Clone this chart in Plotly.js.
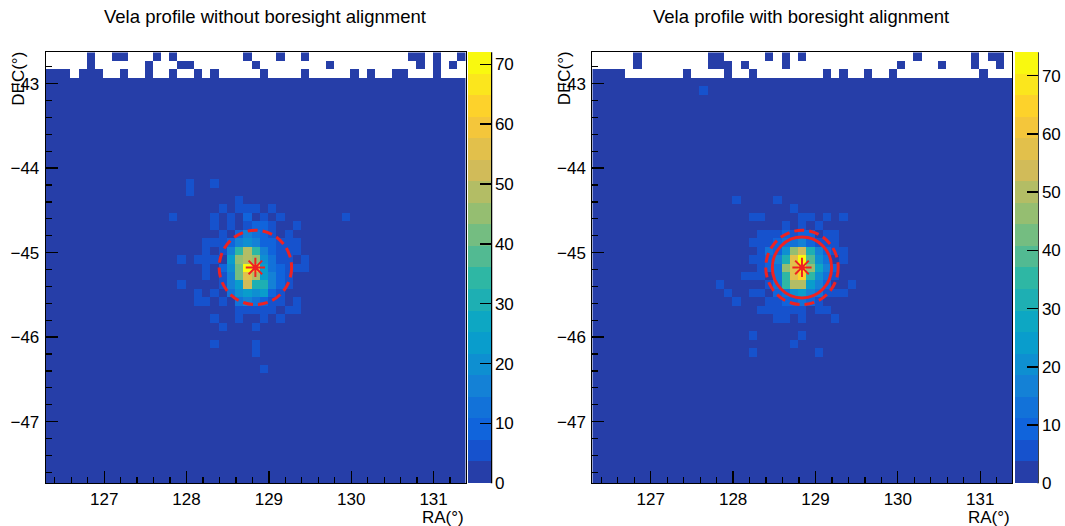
<!DOCTYPE html>
<html>
<head>
<meta charset="utf-8">
<script src="https://cdn.plot.ly/plotly-3.0.1.min.js"></script>
<style>
html,body{margin:0;padding:0;background:#fff;}
#chart{width:1065px;height:526px;}
</style>
</head>
<body>
<div id="chart"></div>
<script>
// ---------------- data ----------------
const panelTitles = ['Vela profile without boresight alignment', 'Vela profile with boresight alignment'];
const xTitleText = 'RA(°)';
const yTitleText = 'DEC(°)';
const raRange = [126.29, 131.39];      // 51 bins of 0.1 deg
const decRange = [-47.73, -42.63];     // 51 bins of 0.1 deg
const binWidth = 0.1;
const raTickStart = 127;
const decTickStart = -47;
const zTickVals = [0, 10, 20, 30, 40, 50, 60, 70];
const zMaxLeft = 72;
const zMaxRight = 74;
const nLevels = 20;
const velaPos = [128.836, -45.176];
const dashedRadius = [0.44, 0.44];     // left, right
const solidRadius = 0.36;              // right panel only

// Colour level of every bin.
// '.' = empty bin, 0-9 / a-j = colour level 0..19. Rows listed from top (DEC -42.68) to bottom.
const Z = '0000000000 0000000000 0000000000 0000000000 0000000000 0';
const leftLevels = [
'.....0..00 ...0.0.... ....0...0. .0........ ....00.0.. 0',
'.....0.... ..0...00.. .....0.... ....0..... .....0.0.0 .',
'000.000..0 ..0..0..0. 0.....0... .0.....0.0 ..00...0.. .',
Z, Z, Z, Z, Z, Z, Z, Z, Z, Z, Z, Z,
'0000000000 0000000100 1000000000 0000000000 0000000000 0',
'0000000000 0000000100 0000000000 0000000000 0000000000 0',
'0000000000 0000000000 0001000000 0000000000 0000000000 0',
'0000000000 0000000000 0101110100 0000000000 0000000000 0',
'0000000000 0000010000 1010201010 0000001000 0000000000 0',
'0000000000 0000000000 1010122100 1000000000 0000000000 0',
'0000000000 0000000000 0102432101 0000000000 0000000000 0',
'0000000000 0000000001 1124542211 1000000000 0000000000 0',
'0000000000 0000000001 0149d94211 1000000000 0000000000 0',
'0000000000 0000001011 106cdc5311 0100000000 0000000000 0',
'0000000000 0000000001 025bjg6321 1100000000 0000000000 0',
'0000000000 0000000001 014bfd6421 0000000000 0000000000 0',
'0000000000 0000001000 0146e88421 0000000000 0000000000 0',
'0000000000 0000000010 1035656210 0000000000 0000000000 0',
'0000000000 0000000011 0103432110 1000000000 0000000000 0',
'0000000000 0000000000 0001111101 1000000000 0000000000 0',
'0000000000 0000000000 1001001010 0000000000 0000000000 0',
'0000000000 0000000000 0100010000 0000000000 0000000000 0',
Z,
'0000000000 0000000000 1000010000 0000000000 0000000000 0',
'0000000000 0000000000 0000010000 0000000000 0000000000 0',
Z,
'0000000000 0000000000 0000001000 0000000000 0000000000 0',
Z, Z, Z, Z, Z, Z, Z, Z, Z, Z, Z, Z, Z
];
const rightLevels = [
'.....0.... ....00.... .0.0.0.... .........0 ......0.00 .',
'.....0.... ....000.0. ...0...... .......0.. ..0...0..0 .',
'0000...... .0....0..0 ........0. 0..0..0... .......0.. .',
Z,
'0000000000 0001000000 0000000000 0000000000 0000000000 0',
Z, Z, Z, Z, Z, Z, Z, Z, Z, Z, Z, Z,
'0000000000 0000000100 0010000000 0000000000 0000000000 0',
'0000000000 0000000000 0000100000 0000000000 0000000000 0',
'0000000000 0000000001 1000011010 1000000000 0000000000 0',
'0000000000 0000000000 0001010100 0000000000 0000000000 0',
'0000000000 0000000000 1112122011 0000000000 0000000000 0',
'0000000000 0000000001 1123342111 0000000000 0000000000 0',
'0000000000 0000000000 1325ce8421 1000000000 0000000000 0',
'0000000000 0000000001 1248fja530 1000000000 0000000000 0',
'0000000000 0000000000 123cfjc742 0000000000 0000000000 0',
'0000000000 0000000011 1039fh9531 0000000000 0000000000 0',
'0000000000 0000010000 0139dd6420 0100000000 0000000000 0',
'0000000000 0000001001 1023564311 1000000000 0000000000 0',
'0000000000 0000000100 0112232100 0000000000 0000000000 0',
'0000000000 0000000000 1111110110 0000000000 0000000000 0',
'0000000000 0000000000 0011010001 0000000000 0000000000 0',
Z,
'0000000000 0000000001 0000010000 0000000000 0000000000 0',
'0000000000 0000000000 0000100000 0000000000 0000000000 0',
'0000000000 0000000001 0000000100 0000000000 0000000000 0',
Z, Z, Z, Z, Z, Z, Z, Z, Z, Z, Z, Z, Z, Z, Z
];

// ---------------- style ----------------
const W = 1065, H = 526;
const FONT = 'Liberation Sans, Arial, Helvetica, sans-serif';
const RED = '#ee2222';
// ROOT kBird palette
const birdStops = [0.0, 0.125, 0.25, 0.375, 0.5, 0.625, 0.75, 0.875, 1.0];
const birdR = [0.2082, 0.0592, 0.0780, 0.0232, 0.1802, 0.5301, 0.8186, 0.9956, 0.9764];
const birdG = [0.1664, 0.3599, 0.5041, 0.6419, 0.7178, 0.7492, 0.7328, 0.7862, 0.9832];
const birdB = [0.5293, 0.8684, 0.8385, 0.7914, 0.6425, 0.4662, 0.3499, 0.1968, 0.0539];

function birdTable(n) {
  const t = [];
  for (let g = 0; g < birdStops.length - 1; g++) {
    const nc = Math.floor(n * birdStops[g + 1]) - Math.floor(n * birdStops[g]);
    for (let c = 0; c < nc; c++) {
      const f = c / nc;
      t.push([birdR[g] + (birdR[g + 1] - birdR[g]) * f,
              birdG[g] + (birdG[g + 1] - birdG[g]) * f,
              birdB[g] + (birdB[g + 1] - birdB[g]) * f]);
    }
  }
  return t;
}
const table = birdTable(255);
const levelColors = [];
for (let i = 0; i < nLevels; i++) {
  const c = table[Math.floor((i + 0.99) * 255 / nLevels)];
  levelColors.push('rgb(' + c.map(v => Math.round(v * 255)).join(',') + ')');
}
const colorscale = [];
levelColors.forEach((c, i) => { colorscale.push([i / nLevels, c]); colorscale.push([(i + 1) / nLevels, c]); });

function decode(rows, zmax) {
  const clean = rows.map(r => r.replace(/ /g, ''));
  clean.forEach((r, k) => { if (r.length !== 51) console.warn('row', k, 'len', r.length); });
  return clean.slice().reverse().map(r => Array.from(r).map(ch =>
    ch === '.' ? null : (parseInt(ch, 36) + 0.5) * zmax / nLevels));
}

// pixel geometry of the two frames
const frameTop = 52.3, frameBot = 483.3;
const panels = [
  {left: 45.7, right: 465.7, cbLeft: 468},
  {left: 592.3, right: 1012.3, cbLeft: 1014.5}
];
const cbThick = 23;

const tickFont = {family: FONT, size: 17, color: '#000'};
function xAxis(p, anchor) {
  return {
    domain: [p.left / W, p.right / W], anchor: anchor, range: raRange,
    tickmode: 'linear', tick0: raTickStart, dtick: 1,
    ticks: 'inside', ticklen: 12, tickwidth: 1.3, tickcolor: '#000',
    minor: {tickmode: 'linear', tick0: raTickStart, dtick: 0.2, ticks: 'inside', ticklen: 6, tickwidth: 1.3, tickcolor: '#000'},
    showline: true, linecolor: '#000', linewidth: 1, mirror: true,
    showgrid: false, zeroline: false, tickfont: tickFont, fixedrange: true, ticklabelstandoff: 0
  };
}
function yAxis(anchor) {
  return {
    domain: [(H - frameBot) / H, (H - frameTop) / H], anchor: anchor, range: decRange,
    tickmode: 'linear', tick0: decTickStart, dtick: 1,
    ticks: 'inside', ticklen: 12, tickwidth: 1.3, tickcolor: '#000',
    minor: {tickmode: 'linear', tick0: decTickStart, dtick: 0.2, ticks: 'inside', ticklen: 6, tickwidth: 1.3, tickcolor: '#000'},
    showline: true, linecolor: '#000', linewidth: 1, mirror: true,
    showgrid: false, zeroline: false, tickfont: tickFont, fixedrange: true, ticklabelstandoff: 2
  };
}

const zmaxes = [zMaxLeft, zMaxRight];
const levelSets = [leftLevels, rightLevels];
const traces = [];
const shapes = [];
const annotations = [];

panels.forEach((p, k) => {
  const xa = k === 0 ? 'x' : 'x2';
  const ya = k === 0 ? 'y' : 'y2';
  traces.push({
    type: 'heatmap', xaxis: xa, yaxis: ya,
    z: decode(levelSets[k], zmaxes[k]),
    x0: raRange[0] + binWidth / 2, dx: binWidth,
    y0: decRange[0] + binWidth / 2, dy: binWidth,
    zmin: 0, zmax: zmaxes[k], colorscale: colorscale,
    hoverinfo: 'skip', hoverongaps: false,
    colorbar: {
      x: p.cbLeft / W, xanchor: 'left', xref: 'paper',
      y: 1 - (frameTop + frameBot) / 2 / H, yanchor: 'middle', yref: 'paper',
      len: frameBot - frameTop, lenmode: 'pixels',
      thickness: cbThick, thicknessmode: 'pixels',
      xpad: 0, ypad: 0, outlinewidth: 0,
      tickmode: 'array', tickvals: zTickVals,
      ticks: 'inside', ticklen: 11, tickwidth: 1.5, tickcolor: '#000',
      tickfont: tickFont
    }
  });
  traces.push({
    type: 'scatter', mode: 'markers', xaxis: xa, yaxis: ya,
    x: [velaPos[0]], y: [velaPos[1]], hoverinfo: 'skip', showlegend: false,
    marker: {symbol: 'asterisk-open', size: 16, color: RED, line: {color: RED, width: 2}}
  });
  const r = dashedRadius[k];
  shapes.push({type: 'circle', xref: xa, yref: ya,
    x0: velaPos[0] - r, x1: velaPos[0] + r, y0: velaPos[1] - r, y1: velaPos[1] + r,
    line: {color: RED, width: 3, dash: '10px,5px'}, layer: 'above'});
  if (k === 1) {
    shapes.push({type: 'circle', xref: xa, yref: ya,
      x0: velaPos[0] - solidRadius, x1: velaPos[0] + solidRadius,
      y0: velaPos[1] - solidRadius, y1: velaPos[1] + solidRadius,
      line: {color: RED, width: 3}, layer: 'above'});
  }
  // palette axis line (right edge of colour bar)
  const ex = (p.cbLeft + cbThick + 0.5) / W;
  shapes.push({type: 'line', xref: 'paper', yref: 'paper', x0: ex, x1: ex,
    y0: (H - frameBot) / H, y1: (H - frameTop) / H, line: {color: '#000', width: 1.5}, layer: 'above'});
  // titles
  annotations.push({text: panelTitles[k], xref: 'paper', yref: 'paper',
    x: (k === 0 ? 265 : 801) / W, y: 1 - 16 / H, xanchor: 'center', yanchor: 'middle',
    showarrow: false, font: {family: FONT, size: 18.5, color: '#000'}});
  annotations.push({text: xTitleText, xref: 'paper', yref: 'paper',
    x: p.right / W, y: 1 - 517 / H, xanchor: 'right', yanchor: 'middle',
    showarrow: false, font: {family: FONT, size: 17, color: '#000'}});
  annotations.push({text: yTitleText, xref: 'paper', yref: 'paper', textangle: -90,
    x: (p.left - 27.5) / W, y: 1 - 78.5 / H, xanchor: 'center', yanchor: 'middle',
    showarrow: false, font: {family: FONT, size: 17, color: '#000'}});
});

const layout = {
  width: W, height: H,
  margin: {l: 0, r: 0, t: 0, b: 0, pad: 0, autoexpand: false},
  paper_bgcolor: '#fff', plot_bgcolor: '#fff',
  showlegend: false, hovermode: false,
  xaxis: xAxis(panels[0], 'y'), yaxis: yAxis('x'),
  xaxis2: xAxis(panels[1], 'y2'), yaxis2: yAxis('x2'),
  shapes: shapes, annotations: annotations
};

Plotly.newPlot('chart', traces, layout, {staticPlot: true, displayModeBar: false});
</script>
</body>
</html>
